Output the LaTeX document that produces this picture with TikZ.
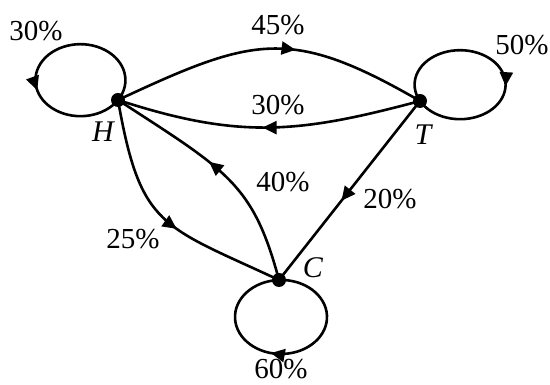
\documentclass[tikz,border=0pt]{standalone}
\usepackage{fontspec}
\setmainfont{Liberation Serif}
\usetikzlibrary{arrows.meta,decorations.markings}
\begin{document}
\begin{tikzpicture}[x=1pt,y=1pt,
  dot/.style={circle,fill=black,inner sep=0pt,minimum size=14pt},
  edgeline/.style={line width=2.6pt},
  marr/.style={postaction={decorate},decoration={markings,mark=at position #1 with {\arrow{Triangle[length=14pt,width=13pt]}}}},
  lbl/.style={font=\fontsize{29}{32}\selectfont,inner sep=0pt},
  vlbl/.style={font=\fontsize{30}{32}\selectfont\itshape,inner sep=0pt}]
\useasboundingbox (0,0) rectangle (550,385);
\node[dot] (H) at (118,285) {};
\node[dot] (T) at (420,284) {};
\node[dot] (C) at (279,105) {};
% edges
\draw[edgeline,marr=0.58] (H.center) .. controls +(25:150) and +(150:150) .. (T.center);
\draw[edgeline,marr=0.52] (T.center) .. controls +(195:127) and +(-18:127) .. (H.center);
\draw[edgeline,marr=0.56] (C.center) .. controls +(105:100) and +(-33:130) .. (H.center);
\draw[edgeline,marr=0.56] (H.center) .. controls +(-80:130) and +(155:130) .. (C.center);
\draw[edgeline,marr=0.557] (T.center) -- (C.center);
% loops
\draw[edgeline,marr=0.625] (H.center) arc[start angle=-33.4,end angle=326.6,x radius=45pt,y radius=36pt];
\draw[edgeline,marr=0.575] (T.center) arc[start angle=208.2,end angle=-151.8,x radius=45.5pt,y radius=34.5pt];
\draw[edgeline,marr=0.547] (C.center) arc[start angle=92.5,end angle=-267.5,x radius=46pt,y radius=37pt];
% labels
\node[vlbl] (lH) at (103,253) {H};
\node[vlbl] (lT) at (423,250) {T};
\node[vlbl] (lC) at (313,117) {C};
\node[lbl] (pHH) at (36,354) {30\%};
\node[lbl] (pTT) at (522,340) {50\%};
\node[lbl] (pCC) at (281,16) {60\%};
\node[lbl] (pHT) at (278,360) {45\%};
\node[lbl] (pTH) at (278,280) {30\%};
\node[lbl] (pCH) at (283,203) {40\%};
\node[lbl] (pHC) at (133,146) {25\%};
\node[lbl] (pTC) at (390,186) {20\%};
\end{tikzpicture}
\end{document}
